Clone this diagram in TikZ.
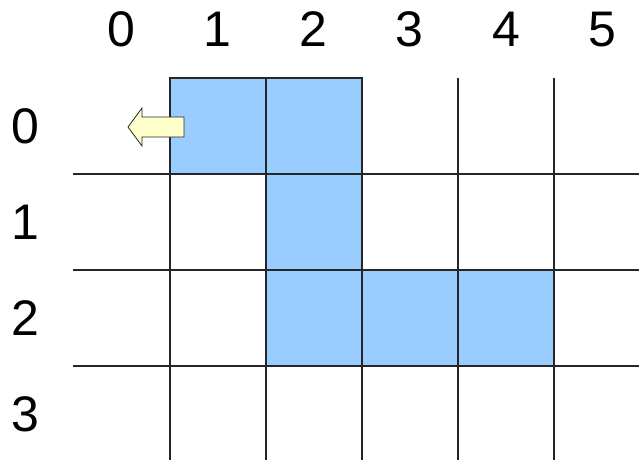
\documentclass[tikz,border=0pt]{standalone}
\usepackage{fontspec}
\setmainfont{Liberation Sans}
\definecolor{cellblue}{HTML}{99CCFF}
\definecolor{arrowyellow}{HTML}{FFFFCC}
\begin{document}
\begin{tikzpicture}[x=1pt,y=-1pt,
  gridline/.style={draw=black!85,line width=1.2pt},
  bluecell/.style={fill=cellblue,draw=black!85,line width=1.2pt},
  lbl/.style={font=\fontsize{50}{60}\selectfont,anchor=base,inner sep=0pt}]
\useasboundingbox (0,0) rectangle (639,460);
% blue cells
\foreach \x/\y in {170/78,266/78,266/174,266/270,362/270,458/270}
  \path[bluecell] (\x,\y) rectangle ++(96,96);
% grid lines
\foreach \x in {170,266,362,458,554}
  \draw[gridline] (\x,78) -- (\x,460);
\foreach \y in {174,270,366}
  \draw[gridline] (73,\y) -- (639,\y);
% outline of blue cells again on top
\foreach \x/\y in {170/78,266/78,266/174,266/270,362/270,458/270}
  \draw[draw=black!85,line width=1.2pt] (\x,\y) rectangle ++(96,96);
% arrow
\draw[fill=arrowyellow,draw=black!85,line width=0.8pt]
  (128,127) -- (142,108) -- (142,117) -- (184,117) -- (184,137) -- (142,137) -- (142,146) -- cycle;
% column labels
\foreach \i/\x in {0/121,1/217,2/313,3/409,4/506,5/602}
  \node[lbl] (c\i) at (\x,47) {\i};
% row labels
\foreach \i/\y in {0/143,1/239,2/335,3/431}
  \node[lbl] (r\i) at (25,\y) {\i};
\end{tikzpicture}
\end{document}
